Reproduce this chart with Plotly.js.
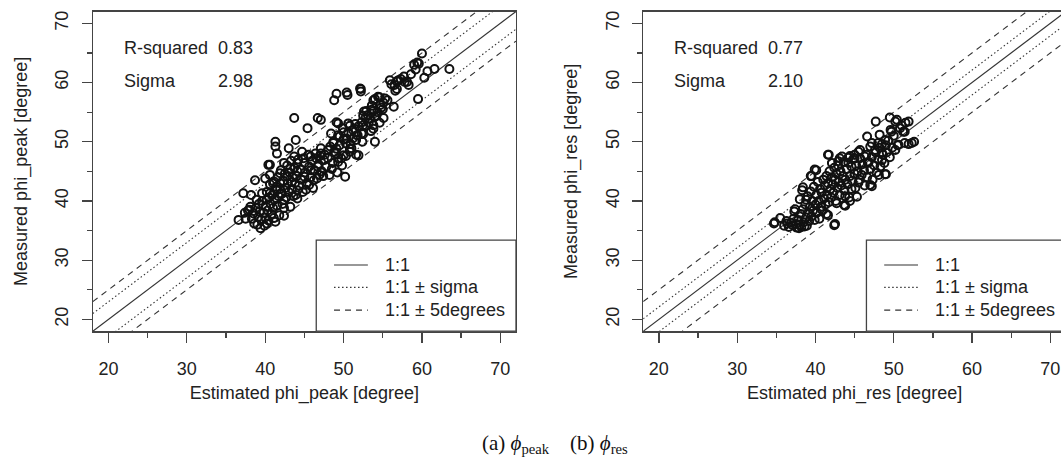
<!DOCTYPE html>
<html><head><meta charset="utf-8">
<script src="https://cdn.plot.ly/plotly-3.0.1.min.js"></script>
<style>html,body{margin:0;padding:0;overflow:hidden;background:#fff}#chart{width:1070px;height:464px}</style>
</head><body><div id="chart"></div>
<script>
// ---- data: panel (a) phi_peak ----
const peakEst = [63.5,61.6,60.7,60.3,60.0,59.6,59.0,59.5,58.6,57.7,58.1,57.0,56.6,55.9,56.4,56.5,55.3,54.4,53.8,53.6,
54.7,54.0,55.1,53.1,52.6,53.8,52.5,52.2,52.2,50.5,49.1,48.8,54.0,51.8,52.3,51.2,50.6,49.9,49.3,49.5,
50.3,51.6,51.0,51.6,50.8,50.2,49.3,49.7,48.6,48.8,48.0,48.4,47.1,47.5,48.2,46.9,46.7,45.8,47.1,46.7,
45.4,43.7,43.9,43.0,41.3,41.3,41.5,44.7,44.9,44.1,45.8,46.4,47.1,45.2,45.6,46.2,44.1,44.1,43.4,42.8,
41.9,40.6,40.6,38.7,37.2,36.6,38.1,39.4,40.2,41.1,42.4,42.4,39.1,38.5,38.9,39.6,40.2,40.6,41.5,41.9,
41.1,40.0,43.2,43.7,42.4,44.1,45.0,
59.4,57.8,56.8,56.1,56.8,54.6,54.0,55.1,53.6,53.8,54.8,52.9,52.5,53.4,54.2,52.1,50.4,53.8,52.9,52.3,
51.4,50.8,50.0,49.1,49.3,50.4,51.7,52.5,49.1,50.0,50.8,48.7,51.9,49.3,
38.0,38.3,38.6,38.8,39.0,39.2,39.3,39.5,39.6,39.8,39.9,40.0,40.1,40.2,40.3,40.4,40.5,40.6,40.7,40.8,
40.9,41.0,41.0,41.2,41.3,41.4,41.5,41.6,41.7,41.8,41.9,42.0,42.1,42.2,42.3,42.4,42.5,42.6,42.7,42.8,
42.9,43.0,43.1,43.2,43.3,43.4,43.5,43.6,43.7,43.8,43.9,44.0,44.2,44.3,44.5,44.6,44.8,45.0,45.1,45.3,
45.5,45.6,45.8,46.0,46.1,46.3,46.5,46.6,46.8,47.0,47.2,47.4,47.6,47.8,48.0,48.3,48.5,48.7,49.0,49.2,
49.5,49.8,50.0,50.3,50.6,50.9,51.2,51.5,51.9,52.4,52.8,53.2,53.5,54.3,54.6,55.0,55.6,57.3,58.3,59.2,
37.5,37.8,38.2,37.4,40.4];
const peakMeas = [62.3,62.3,61.9,60.8,64.9,63.2,63.0,57.2,61.4,61.0,60.1,60.4,58.6,60.4,55.9,59.6,57.3,57.6,57.0,55.4,
56.2,54.2,54.0,54.5,55.1,52.8,52.8,58.9,58.5,57.9,58.1,57.0,50.0,51.1,51.4,52.0,53.1,52.3,53.1,50.9,
49.7,50.3,48.9,47.8,48.3,44.1,46.6,47.2,46.4,48.3,48.6,51.4,48.0,46.9,44.4,44.4,45.8,45.2,53.7,54.0,
52.3,54.0,50.3,48.9,50.0,49.2,48.0,48.3,47.2,46.4,47.5,48.0,48.9,41.9,42.7,43.5,40.4,41.8,43.2,44.1,
44.7,46.1,44.4,43.5,41.3,36.8,39.0,35.4,36.2,37.1,38.8,40.2,37.3,37.9,40.2,41.3,40.2,41.3,41.8,43.0,
43.3,43.8,45.5,47.5,46.4,45.0,44.1,
63.4,60.1,60.2,59.7,58.9,57.5,57.2,56.6,56.1,55.2,55.8,55.2,54.4,53.9,54.4,59.0,58.3,52.2,52.7,53.3,
52.2,52.7,51.6,53.3,51.1,50.5,51.1,51.3,48.8,47.7,48.8,50.0,47.7,47.2,
38.5,37.0,36.2,38.8,36.0,39.5,38.2,36.8,40.0,38.0,35.8,37.2,39.0,41.5,38.4,36.7,40.6,42.8,39.5,37.8,
41.0,43.0,38.8,40.2,36.5,42.4,39.2,44.0,40.8,37.6,42.0,45.2,41.2,39.5,43.4,37.5,44.6,42.2,40.6,46.0,
43.0,41.5,44.8,39.0,46.8,42.0,44.0,40.8,45.6,43.0,41.0,44.2,47.0,42.6,45.4,43.6,41.5,46.4,44.8,43.0,
47.8,45.8,44.0,46.8,42.2,45.2,47.2,43.8,46.2,47.6,45.0,44.2,47.8,45.8,47.2,49.2,45.4,49.8,48.0,44.8,
49.4,46.0,50.4,47.6,51.6,49.6,50.6,53.0,52.6,50.0,54.0,53.2,51.8,55.0,53.2,55.5,57.0,60.6,59.6,62.2,
37.0,38.4,41.0,38.0,46.1];
const peakRsq = "0.83";
const peakSigma = 2.98;

// ---- data: panel (b) phi_res ----
const resEst = [34.7,35.5,49.5,47.7,50.2,51.5,50.8,51.4,49.6,52.6,51.9,50.5,49.0,46.6,41.7,40.1,39.4,42.4,41.6,43.7,
45.3,42.7,47.0,48.1,48.5,47.0,43.1,44.4,45.5,45.0,37.3,37.9,38.6,36.4,38.3,38.8,
50.4,51.0,51.9,51.2,49.7,52.3,51.4,50.6,41.6,39.9,39.5,38.4,38.0,37.4,34.8,42.5,41.4,43.8,44.4,47.2,
48.9,46.7,46.3,45.7,45.0,44.2,43.4,42.9,42.1,48.0,48.9,48.2,47.6,48.5,47.2,43.8,44.6,45.5,
36.0,36.3,36.6,36.9,37.1,37.2,37.5,37.6,37.8,38.0,38.1,38.2,38.4,38.5,38.7,38.8,38.9,39.0,39.1,39.2,
39.3,39.4,39.5,39.6,39.7,39.8,39.9,40.0,40.1,40.2,40.3,40.4,40.5,40.6,40.7,40.8,40.9,41.0,41.1,41.2,
41.3,41.4,41.5,41.6,41.7,41.8,41.9,42.0,42.1,42.2,42.3,42.4,42.5,42.6,42.7,42.8,42.9,43.0,43.1,43.2,
43.3,43.5,43.6,43.7,43.8,44.0,44.1,44.2,44.3,44.4,44.6,44.7,44.8,45.0,45.1,45.2,45.4,45.6,45.7,45.9,
46.0,46.2,46.3,46.5,46.6,46.8,47.0,47.2,47.3,47.5,47.7,47.8,48.0,48.2,48.3,48.5,48.6,48.8,49.0,49.1,
49.3,49.5,49.8,50.0,50.2];
const resMeas = [36.2,37.1,54.1,53.4,53.4,53.2,52.3,51.7,52.0,50.0,49.6,49.4,44.5,50.9,47.8,45.2,44.2,35.9,37.6,39.3,
40.7,39.6,42.7,44.4,46.9,49.2,47.2,47.6,48.3,47.2,38.2,35.4,35.7,36.2,41.8,40.2,
53.7,52.8,53.4,51.7,51.7,49.8,49.8,49.5,47.8,45.3,44.2,42.3,40.3,38.6,36.4,36.1,37.8,39.2,40.0,42.5,
44.5,46.4,47.5,48.6,47.8,47.3,47.5,46.7,46.4,49.8,50.3,51.2,48.6,48.1,49.8,40.8,42.0,43.1,
35.8,36.6,35.6,36.3,35.9,37.0,36.1,35.5,36.8,36.0,37.8,35.6,38.6,36.4,39.4,37.2,35.8,40.8,38.0,36.6,
39.0,41.6,37.4,40.0,38.4,42.4,36.8,39.4,41.0,38.0,43.2,40.0,37.0,42.0,39.0,41.4,38.4,43.6,40.4,42.6,
39.4,44.2,41.0,43.0,39.8,45.0,42.0,40.6,44.0,42.8,41.4,45.6,43.6,40.0,44.6,42.2,46.0,43.2,41.0,45.0,
42.6,44.2,46.6,41.8,43.6,45.4,42.8,46.4,40.6,44.2,45.8,43.4,47.0,44.6,42.2,46.0,45.0,43.6,47.2,44.4,
46.2,45.2,42.6,47.8,44.0,46.6,45.4,47.4,43.6,46.0,48.2,44.8,47.0,49.0,45.8,49.6,47.8,46.4,49.4,48.2,
50.2,47.4,49.0,51.0,48.6];
const resRsq = "0.77";
const resSigma = 2.10;

const axisRange = [18, 72];
const xTitles = ["Estimated phi_peak [degree]", "Estimated phi_res [degree]"];
const yTitles = ["Measured phi_peak [degree]", "Measured phi_res [degree]"];
const legendLabels = ["1:1", "1:1 \u00b1 sigma", "1:1 \u00b1 5degrees"];
const captionA = "(a) <i>\u03d5</i><sub>peak</sub>";
const captionB = "(b) <i>\u03d5</i><sub>res</sub>";

// ---- drawing ----
const W = 1070, H = 464;
const FONT = "Liberation Sans, Arial, sans-serif";
const INK = "#222", FRAME = "#444", LINE = "#333";
const DOT = "1.5px,2.5px", DASH = "6px,5px";

const panels = [
  {est: peakEst, meas: peakMeas, rsq: peakRsq, s: peakSigma, xa: "x", ya: "y"},
  {est: resEst, meas: resMeas, rsq: resRsq, s: resSigma, xa: "x2", ya: "y2"}
];

const traces = [];
panels.forEach(p => {
  const lx = axisRange.slice();
  const refs = [
    {off: 0, dash: "solid"},
    {off: p.s, dash: DOT}, {off: -p.s, dash: DOT},
    {off: 5, dash: DASH}, {off: -5, dash: DASH}
  ];
  refs.forEach(r => traces.push({
    type: "scatter", mode: "lines", x: lx, y: lx.map(v => v + r.off),
    xaxis: p.xa, yaxis: p.ya, showlegend: false, hoverinfo: "skip",
    line: {color: LINE, width: 1.1, dash: r.dash}
  }));
  traces.push({
    type: "scatter", mode: "markers", x: p.est, y: p.meas,
    xaxis: p.xa, yaxis: p.ya, showlegend: false,
    marker: {symbol: "circle-open", size: 8, color: "#111", line: {width: 2, color: "#111"}}
  });
});

function xAxis(domain, title) {
  return {
    domain: domain, range: axisRange, tick0: 0, dtick: 10, ticks: "outside", ticklen: 10,
    tickwidth: 1.3, tickcolor: FRAME, showline: true, linecolor: FRAME, linewidth: 1.3, mirror: true,
    showgrid: false, zeroline: false, ticklabelstandoff: 11,
    minor: {tick0: 0, dtick: 5, ticks: "outside", ticklen: 5, tickwidth: 1.3, tickcolor: FRAME, showgrid: false},
    tickfont: {family: FONT, size: 18, color: INK},
    title: {text: title, font: {family: FONT, size: 18, color: INK}, standoff: 8}
  };
}
function yAxis(domain, title, anchor) {
  const a = xAxis(domain, title);
  a.tickangle = -90;
  a.anchor = anchor;
  a.ticklabelstandoff = 6;
  a.title.standoff = 20;
  return a;
}

const xdA = [92.8 / W, 516 / W], xdB = [643.2 / W, 1066 / W];
const yd = [1 - 331.2 / H, 1 - 11.5 / H];

const shapes = [], annotations = [];
panels.forEach(p => {
  const xr = p.xa + " domain", yr = p.ya + " domain";
  shapes.push({type: "rect", xref: xr, yref: yr, x0: 0.528, x1: 1, y0: 0, y1: 0.285,
    fillcolor: "#fff", line: {color: FRAME, width: 1.3}, layer: "above"});
  const rows = [0.207, 0.137, 0.066];
  const dashes = ["solid", DOT, DASH];
  rows.forEach((ry, i) => {
    shapes.push({type: "line", xref: xr, yref: yr, x0: 0.57, x1: 0.65, y0: ry, y1: ry,
      line: {color: LINE, width: 1.1, dash: dashes[i]}, layer: "above"});
    annotations.push({xref: xr, yref: yr, x: 0.685, y: ry, xanchor: "left", yanchor: "middle",
      text: legendLabels[i], showarrow: false, font: {family: FONT, size: 18, color: INK}});
  });
  annotations.push({xref: xr, yref: yr, x: 0.069, y: 0.887, xanchor: "left", yanchor: "middle",
    text: "R-squared", showarrow: false, font: {family: FONT, size: 18, color: INK}});
  annotations.push({xref: xr, yref: yr, x: 0.29, y: 0.887, xanchor: "left", yanchor: "middle",
    text: p.rsq, showarrow: false, font: {family: FONT, size: 18, color: INK}});
  annotations.push({xref: xr, yref: yr, x: 0.069, y: 0.783, xanchor: "left", yanchor: "middle",
    text: "Sigma", showarrow: false, font: {family: FONT, size: 18, color: INK}});
  annotations.push({xref: xr, yref: yr, x: 0.29, y: 0.783, xanchor: "left", yanchor: "middle",
    text: p.s.toFixed(2), showarrow: false, font: {family: FONT, size: 18, color: INK}});
});
annotations.push({xref: "paper", yref: "paper", x: 480 / W, y: 1 - 443.5 / H, xanchor: "left", yanchor: "middle",
  text: captionA, showarrow: false, font: {family: "Liberation Serif, Times New Roman, serif", size: 21, color: "#111"}});
annotations.push({xref: "paper", yref: "paper", x: 568 / W, y: 1 - 443.5 / H, xanchor: "left", yanchor: "middle",
  text: captionB, showarrow: false, font: {family: "Liberation Serif, Times New Roman, serif", size: 21, color: "#111"}});

const layout = {
  width: W, height: H, margin: {l: 0, r: 0, t: 0, b: 0},
  paper_bgcolor: "#fff", plot_bgcolor: "#fff", showlegend: false,
  font: {family: FONT, color: INK},
  xaxis: Object.assign(xAxis(xdA, xTitles[0]), {anchor: "y"}),
  yaxis: yAxis(yd, yTitles[0], "x"),
  xaxis2: Object.assign(xAxis(xdB, xTitles[1]), {anchor: "y2"}),
  yaxis2: yAxis(yd, yTitles[1], "x2"),
  shapes: shapes, annotations: annotations
};
Plotly.newPlot("chart", traces, layout, {staticPlot: true, displayModeBar: false});
</script></body></html>
